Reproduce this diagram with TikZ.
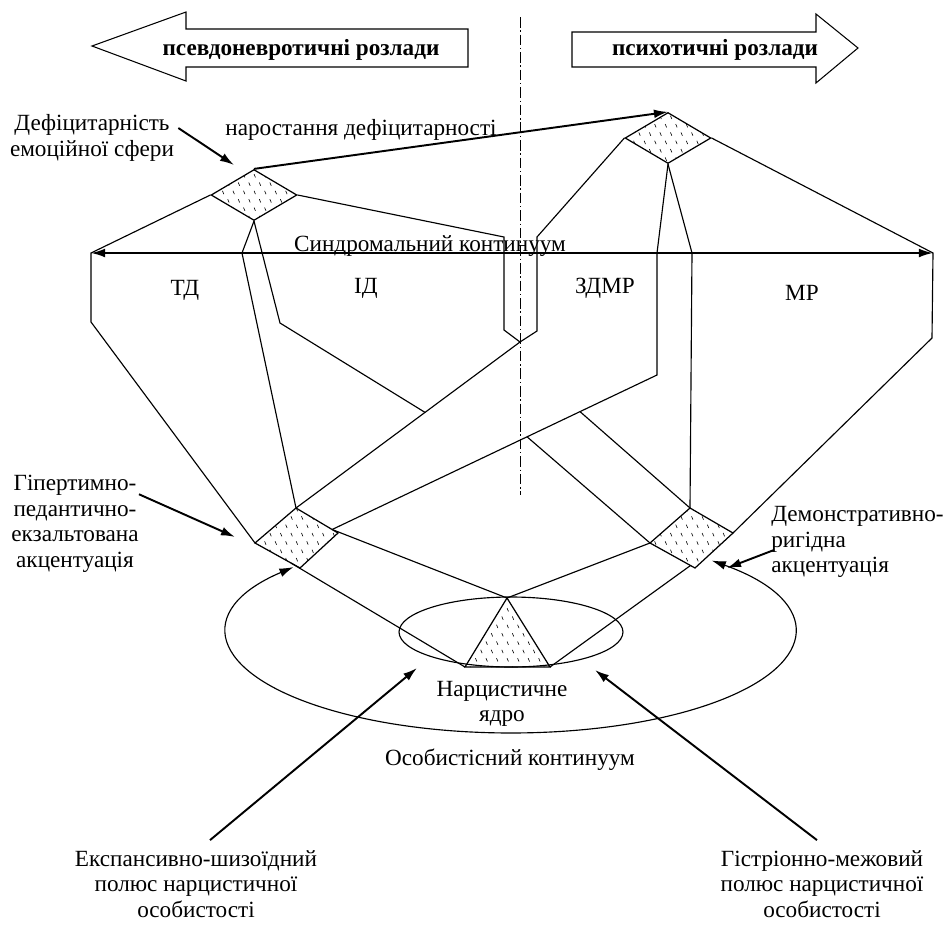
\documentclass[tikz,border=0pt]{standalone}
\usepackage{fontspec}
\setmainfont{Liberation Serif}
\usetikzlibrary{positioning, shapes.geometric, arrows.meta, patterns, calc}

\pgfdeclarepatternformonly{ticks}{\pgfqpoint{-1pt}{-1pt}}{\pgfqpoint{7pt}{10.5pt}}{\pgfqpoint{6pt}{9.5pt}}{%
  \pgfsetlinewidth{0.35pt}%
  \pgfpathmoveto{\pgfqpoint{0.6pt}{8.8pt}}\pgfpathlineto{\pgfqpoint{1.4pt}{6.9pt}}%
  \pgfpathmoveto{\pgfqpoint{3.6pt}{4.05pt}}\pgfpathlineto{\pgfqpoint{4.4pt}{2.15pt}}%
  \pgfusepath{stroke}}

\tikzstyle{rhomb}    = [diamond, draw, pattern=ticks, minimum width=1.72cm, minimum height=1.02cm, inner sep=0pt, line width=0.7pt]
\tikzstyle{quad}     = [draw, pattern=ticks, line width=0.7pt]
\tikzstyle{link}     = [line width=0.65pt]
\tikzstyle{pointer}  = [->, line width=1.1pt]
\tikzstyle{txt}      = [align=center, inner sep=0pt]
\tikzstyle{bigarrow} = [draw, line width=0.6pt]

\begin{document}
\begin{tikzpicture}[x=0.02cm, y=-0.02cm, font=\fontsize{13.2}{14.5}\selectfont, >={Latex[length=8pt,width=5pt]}]
    \useasboundingbox (0,0) rectangle (944,924);

    % directions
    \draw[bigarrow] (92,46) -- (186,12) -- (186,29) -- (468,29) -- (468,67) -- (186,67) -- (186,81) -- cycle;
    \node[anchor=base] (neur) at (301,55) {\textbf{псевдоневротичні розлади}};
    \draw[bigarrow] (858,48) -- (816,14) -- (816,32) -- (572,32) -- (572,67) -- (816,67) -- (816,83) -- cycle;
    \node[anchor=base] (psych) at (715,55) {\textbf{психотичні розлади}};
    \draw[line width=0.5pt, dash pattern=on 6pt off 1.6pt on 0.8pt off 1.6pt] (520,17) -- (520,495);

    % deficit rhombs
    \node[rhomb] (defA) at (254,195) {};
    \node[rhomb] (defB) at (668,138) {};

    % accentuations
    \coordinate (gaN) at (296,508);
    \coordinate (gaE) at (338,533);
    \coordinate (gaS) at (300,568);
    \coordinate (gaW) at (255,543);
    \coordinate (daN) at (690,508);
    \coordinate (daE) at (733,533);
    \coordinate (daS) at (695,568);
    \coordinate (daW) at (650,543);
    \draw[quad] (gaN) -- (gaE) -- (gaS) -- (gaW) -- cycle;
    \draw[quad] (daN) -- (daE) -- (daS) -- (daW) -- cycle;
    \coordinate (gaX) at ($(gaN)!0.86!(gaE)$);

    % core
    \coordinate (core) at (511,632);
    \coordinate (coreT) at (507,598);
    \coordinate (coreL) at (465,667);
    \coordinate (coreR) at (550,667);
    \draw[link] (core) ellipse [x radius=2.24cm, y radius=0.70cm];
    \draw[quad] (coreT) -- (coreL) -- (coreR) -- cycle;
    \draw[link, <->] (core) ++(140:5.68cm and 2.02cm) arc[start angle=140, end angle=405, x radius=5.68cm, y radius=2.02cm];

    % syndromal continuum
    \coordinate (scW) at (91,253);
    \coordinate (scE) at (933,253);
    \coordinate (vx) at (520,342);
    \coordinate (bk) at (657,375);
    \draw[line width=1.1pt, <->] (scW) -- (scE);
    \draw[pointer] (defA.north) -- (defB.north);

    \draw[link] (defA.west) -- (scW) -- (91,322) -- (gaW);
    \draw[link] (defB.east) -- (scE) -- (932,338) -- (daE);
    \draw[link] (defA.east) -- (504,237) -- (504,330) -- (vx) -- (537,331) -- (537,237) -- (defB.west);
    \draw[link] (vx) -- (gaN);
    \draw[link] (defA.south) -- (242,253) -- (gaN);
    \draw[link] (defA.south) -- (280,323) -- ($(vx)!0.424!(gaN)$);
    \draw[link] (defB.south) -- (657,253) -- (bk) -- (gaX);
    \draw[link] (defB.south) -- (692,253) -- (daN);
    \draw[link] (daN) -- ($(bk)!0.237!(gaX)$);
    \draw[link] (daW) -- ($(bk)!0.4!(gaX)$);
    \draw[link] (gaX) -- (coreT) -- (daW);
    \draw[link] ($(gaW)!0.8!(gaS)$) -- (coreL);
    \draw[link] ($(daW)!0.9!(daS)$) -- (coreR);

    % labels
    \node[anchor=base] (growTxt) at (361,135) {наростання дефіцитарності};
    \node[anchor=base] (synTxt) at (430,251) {Синдромальний континуум};
    \node[anchor=base] (td) at (185,295) {ТД};
    \node[anchor=base] (id) at (366,293) {ІД};
    \node[anchor=base] (zdmr) at (605,293) {ЗДМР};
    \node[anchor=base] (mr) at (802,300) {МР};

    \node[txt] (defTxt) at (92,138) {Дефіцитарність\\емоційної сфери};
    \coordinate (defTip) at (234,165);
    \draw[pointer] ([shift={(4,-10)}]defTxt.east) -- (defTip);

    \node[txt] (hypTxt) at (75,524) {Гіпертимно-\\педантично-\\екзальтована\\акцентуація};
    \coordinate (hypTip) at (235,537);
    \draw[pointer] ([shift={(0,19)}]hypTxt.north east) -- (hypTip);

    \node[txt, align=left, anchor=west] (demTxt) at (771,542) {Демонстративно-\\ригідна\\акцентуація};
    \coordinate (demTip) at (727,568);
    \draw[pointer] ([shift={(3,8)}]demTxt.west) -- (demTip);

    \node[txt] (coreTxt) at (502,704) {Нарцистичне\\ядро};
    \node[anchor=base] (persTxt) at (510,765) {Особистісний континуум};

    \node[txt] (expTxt) at (196,884) {Експансивно-шизоїдний\\полюс нарцистичної\\особистості};
    \coordinate (expTip) at (417,668);
    \draw[pointer] ([shift={(14,-10)}]expTxt.north) -- (expTip);

    \node[txt] (histTxt) at (822,884) {Гістріонно-межовий\\полюс нарцистичної\\особистості};
    \coordinate (histTip) at (595,670);
    \draw[pointer] ([shift={(-5,-10)}]histTxt.north) -- (histTip);
\end{tikzpicture}
\end{document}
